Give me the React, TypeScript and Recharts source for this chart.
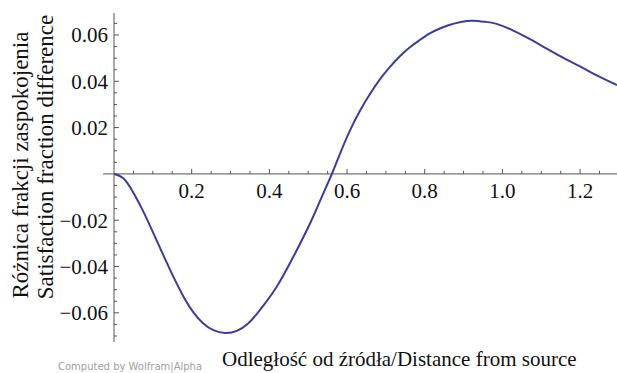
import React from "react"
import {
  Line,
  LineChart,
  ReferenceDot,
  ReferenceLine,
  XAxis,
  YAxis,
} from "recharts"

// distance from source (x) and satisfaction fraction difference (y)
const distance = [
  0, 0.024, 0.05, 0.075, 0.101, 0.127, 0.153, 0.178, 0.204, 0.23, 0.256, 0.286,
  0.316, 0.346, 0.376, 0.419, 0.462, 0.505, 0.535, 0.561, 0.582, 0.607, 0.633,
  0.659, 0.685, 0.71, 0.736, 0.761, 0.787, 0.813, 0.839, 0.861, 0.893, 0.925,
  0.955, 0.985, 1.028, 1.071, 1.114, 1.157, 1.2, 1.243, 1.295,
]
const satisfactionDiff = [
  0, -0.0019, -0.0081, -0.0161, -0.0255, -0.0351, -0.0445, -0.0527, -0.0597,
  -0.0646, -0.0675, -0.0687, -0.0678, -0.0645, -0.0587, -0.0487, -0.0357,
  -0.0213, -0.0099, 0, 0.0088, 0.0186, 0.0272, 0.0345, 0.0409, 0.0461, 0.0508,
  0.0546, 0.0578, 0.0607, 0.0628, 0.0642, 0.0656, 0.0661, 0.0657, 0.0648,
  0.0619, 0.0582, 0.0541, 0.0501, 0.0464, 0.0426, 0.0384,
]

const xMajorTicks = [0.2, 0.4, 0.6, 0.8, 1.0, 1.2]
const xMinorTicks = [
  0.05, 0.1, 0.15, 0.25, 0.3, 0.35, 0.45, 0.5, 0.55, 0.65, 0.7, 0.75, 0.85, 0.9,
  0.95, 1.05, 1.1, 1.15, 1.25,
]
const yMajorTicks = [-0.06, -0.04, -0.02, 0.02, 0.04, 0.06]
const yAllTicks = [
  -0.07, -0.065, -0.06, -0.055, -0.05, -0.045, -0.04, -0.035, -0.03, -0.025,
  -0.02, -0.015, -0.01, -0.005, 0.005, 0.01, 0.015, 0.02, 0.025, 0.03, 0.035,
  0.04, 0.045, 0.05, 0.055, 0.06, 0.065,
]

const xTitle = "Odległość od źródła/Distance from source"
const yTitlePl = "Różnica frakcji zaspokojenia"
const yTitleEn = "Satisfaction fraction difference"
const credit = "Computed by Wolfram|Alpha"

const data = distance.map((d, i) => ({ d, v: satisfactionDiff[i] }))

const axisColor = "#555"
const curveColor = "#3d3d99"
const serif = "'Liberation Serif', 'DejaVu Serif', serif"

const isMajorY = (v: number) => yMajorTicks.some((t) => Math.abs(t - v) < 1e-9)
const fmtY = (v: number) => (v < 0 ? "\u2212" : "") + Math.abs(v).toFixed(2)

const YTick = ({ x, y, payload }: any) => {
  const major = isMajorY(payload.value)
  return (
    <g>
      <line x1={x} x2={x + (major ? 5 : 3)} y1={y} y2={y} stroke={axisColor} />
      {major && (
        <text
          x={x - 6}
          y={y}
          dy="0.35em"
          textAnchor="end"
          fontFamily={serif}
          fontSize={21}
          fill="#111"
        >
          {fmtY(payload.value)}
        </text>
      )}
    </g>
  )
}

const xTickShape = (label: string | null) => (p: any) => (
  <g>
    <line
      x1={p.cx}
      x2={p.cx}
      y1={p.cy}
      y2={p.cy - (label ? 5 : 3)}
      stroke={axisColor}
    />
    {label && (
      <text
        x={p.cx}
        y={p.cy + 24}
        textAnchor="middle"
        fontFamily={serif}
        fontSize={21}
        fill="#111"
      >
        {label}
      </text>
    )}
  </g>
)

export default function App() {
  return (
    <div style={{ position: "absolute", left: 0, top: 0, width: 617, height: 373 }}>
      <LineChart
        width={617}
        height={373}
        data={data}
        margin={{ top: 13, right: 0, left: 54, bottom: 31 }}
      >
        <XAxis
          dataKey="d"
          type="number"
          domain={[0, 1.295]}
          allowDataOverflow
          hide
        />
        <YAxis
          type="number"
          domain={[-0.0726, 0.0695]}
          allowDataOverflow
          ticks={yAllTicks}
          interval={0}
          width={60}
          tickSize={0}
          tickMargin={0}
          tickLine={false}
          axisLine={{ stroke: axisColor }}
          tick={<YTick />}
        />
        <ReferenceLine
          segment={[
            { x: -0.028, y: 0 },
            { x: 1.295, y: 0 },
          ]}
          stroke={axisColor}
          ifOverflow="visible"
        />
        {xMinorTicks.map((t) => (
          <ReferenceDot
            key={`m${t}`}
            x={t}
            y={0}
            r={0}
            ifOverflow="visible"
            shape={xTickShape(null)}
          />
        ))}
        {xMajorTicks.map((t) => (
          <ReferenceDot
            key={`M${t}`}
            x={t}
            y={0}
            r={0}
            ifOverflow="visible"
            shape={xTickShape(t.toFixed(1))}
          />
        ))}
        <Line
          type="natural"
          dataKey="v"
          stroke={curveColor}
          strokeWidth={2}
          dot={false}
          isAnimationActive={false}
        />
      </LineChart>
      <svg
        width={617}
        height={373}
        style={{ position: "absolute", left: 0, top: 0, pointerEvents: "none" }}
      >
        <text
          transform="rotate(-90 28 165)"
          x={28}
          y={165}
          textAnchor="middle"
          fontFamily={serif}
          fontSize={23}
          fill="#111"
        >
          {yTitlePl}
        </text>
        <text
          transform="rotate(-90 53 157)"
          x={53}
          y={157}
          textAnchor="middle"
          fontFamily={serif}
          fontSize={23}
          fill="#111"
        >
          {yTitleEn}
        </text>
        <text x={222} y={366} fontFamily={serif} fontSize={21} fill="#111">
          {xTitle}
        </text>
        <text
          x={58}
          y={370}
          fontFamily="'DejaVu Sans', sans-serif"
          fontSize={10}
          fill="#a0a0a0"
        >
          {credit}
        </text>
      </svg>
    </div>
  )
}
